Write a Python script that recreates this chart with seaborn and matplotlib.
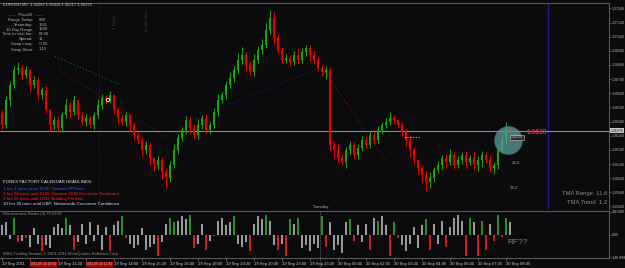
import numpy as np
import pandas as pd
import matplotlib
matplotlib.use("Agg")
import matplotlib.pyplot as plt
import matplotlib.transforms as mtransforms
import seaborn as sns

# ---------------- data ----------------
first_open = 1.36500
closes = [1.36415, 1.36592, 1.36698, 1.36804, 1.36818, 1.36769, 1.36804, 1.36698, 1.36734, 1.36628,
          1.36663, 1.36522, 1.36415, 1.36451, 1.36394, 1.36486, 1.36557, 1.36507, 1.36592, 1.36486,
          1.36437, 1.36465, 1.36415, 1.36486, 1.36557, 1.36606, 1.36592, 1.36628, 1.36522, 1.36465,
          1.36437, 1.36486, 1.36415, 1.36345, 1.36309, 1.36239, 1.36274, 1.36182, 1.36133, 1.36168,
          1.36083, 1.36041, 1.36133, 1.36239, 1.36324, 1.36380, 1.36451, 1.36394, 1.36345, 1.36415,
          1.36465, 1.36380, 1.36415, 1.36507, 1.36592, 1.36628, 1.36698, 1.36748, 1.36804, 1.36875,
          1.36910, 1.36840, 1.36790, 1.36875, 1.36946, 1.36981, 1.37087, 1.37172, 1.37031, 1.36946,
          1.36875, 1.36889, 1.36861, 1.36910, 1.36875, 1.36932, 1.36960, 1.36910, 1.36875, 1.36818,
          1.36790, 1.36804, 1.36274, 1.36239, 1.36182, 1.36154, 1.36239, 1.36274, 1.36203, 1.36253,
          1.36309, 1.36274, 1.36345, 1.36309, 1.36380, 1.36415, 1.36437, 1.36465, 1.36451, 1.36415,
          1.36366, 1.36309, 1.36239, 1.36168, 1.36111, 1.36062, 1.36012, 1.36041, 1.36097, 1.36133,
          1.36182, 1.36154, 1.36203, 1.36133, 1.36168, 1.36203, 1.36154, 1.36182, 1.36133, 1.36168,
          1.36203, 1.36168, 1.36111, 1.36133, 1.36239, 1.36309, 1.36380, 1.36376]
wick_up_pips = [2, 3, 2, 3, 4, 2, 3, 1, 3, 2, 2, 3, 1, 2, 3, 2, 4, 2, 3, 1,
                2, 3, 2, 2, 4, 3, 2, 3, 1, 2, 3, 2, 1, 2, 3, 2, 3, 2, 1, 3,
                2, 2, 3, 4, 3, 2, 3, 2, 3, 4, 2, 3, 2, 3, 4, 2, 3, 4, 3, 5,
                6, 2, 3, 4, 3, 4, 5, 6, 4, 3, 2, 3, 2, 3, 4, 3, 2, 2, 3, 2,
                2, 3, 2, 3, 4, 3, 2, 3, 2, 3, 3, 2, 3, 2, 3, 2, 3, 4, 2, 1,
                2, 2, 3, 2, 1, 2, 3, 4, 2, 3, 2, 3, 4, 2, 3, 2, 3, 2, 4, 3,
                3, 2, 3, 2, 3, 4, 6, 2]
wick_dn_pips = [3, 2, 4, 2, 3, 3, 2, 4, 2, 3, 3, 2, 4, 3, 2, 3, 2, 4, 2, 3,
                2, 3, 2, 3, 2, 3, 3, 2, 3, 4, 2, 3, 4, 3, 2, 4, 3, 5, 4, 3,
                5, 6, 3, 2, 3, 2, 3, 4, 2, 3, 3, 2, 3, 2, 3, 2, 3, 2, 3, 2,
                3, 4, 2, 3, 2, 3, 2, 3, 4, 2, 3, 2, 3, 2, 3, 2, 3, 4, 3, 2,
                3, 5, 4, 6, 3, 2, 4, 3, 2, 3, 2, 3, 2, 3, 2, 3, 2, 2, 3, 2,
                3, 4, 5, 3, 4, 5, 6, 4, 3, 2, 3, 4, 2, 3, 2, 3, 4, 2, 3, 4,
                5, 2, 3, 4, 3, 2, 3, 2]

osc_values = [60, 80, -30, 110, -50, -40, -25, -80, 40, -60,
              -110, -70, -90, 50, 70, 40, 110, 60, -100, -50,
              70, -60, 80, -40, 60, -100, 50, -110, 60, 90,
              120, -20, -60, -90, -70, 40, -100, -80, -60, -140,
              -50, 70, 110, 80, 90, 120, 100, 130, -90, -60,
              70, -100, -40, -10, 90, 110, 60, 80, 120, -60,
              -80, -50, -110, 70, 120, 100, 130, 90, -70, -100,
              -60, -140, 100, 70, 110, -90, -70, -110, -60, -90,
              120, -80, 80, -100, -70, -120, 80, 100, -40, 60,
              -50, 70, -100, 110, 90, 120, 60, -140, 80, -20,
              -70, -110, -60, 50, -90, 60, 100, -100, 70, -60,
              90, -80, 50, 110, 130, 90, -140, 110, 80, -140,
              90, -100, 70, -40, 130, -15, 110, 80]
osc_signal_codes = ("nnngrnrnnn" "rnnnnngnrn" "nnnnnnnrnn" "grnnnnnnnr" "nnggnnngrn"
                    "nrnrnnnngn" "nnrnnngnnr" "nrgngnnnnn" "grnnnnngrn" "nnrngnnrgr"
                    "nnnnnngrnn" "nrnnnnrgnr" "grnrgrgn")

price_ticks = [1.3584, 1.3594, 1.3604, 1.3614, 1.3624, 1.3634, 1.3644, 1.3654,
               1.3664, 1.3674, 1.3684, 1.3694, 1.3704, 1.3714, 1.3724]
osc_ticks = [146.888, 0.0, -146.888]
osc_tick_labels = ["146.888", "0.00", "-146.888"]
time_tick_bars = [0, 7, 14, 21, 28, 35, 42, 49, 56, 63, 70, 77, 84, 91, 98, 105, 112, 119, 126]
time_tick_labels = ["19 Sep 2011", "2011.09.19 10:00", "19 Sep 11:20", "2011.09.19 12:40",
                    "19 Sep 14:00", "19 Sep 15:20", "19 Sep 16:40", "19 Sep 18:00",
                    "19 Sep 19:20", "19 Sep 20:40", "19 Sep 22:00", "19 Sep 23:20",
                    "20 Sep 00:45", "20 Sep 02:05", "20 Sep 03:25", "20 Sep 04:45",
                    "20 Sep 06:05", "20 Sep 07:25", "20 Sep 08:45"]

tma_green_bars = [13.25, 29.5]
tma_green_prices = [1.3690, 1.3670]
tma_red1_bars = [14.5, 42.0]
tma_red1_prices = [1.3680, 1.3631]
tma_blue_bars = [57.0, 79.5]
tma_blue_prices = [1.3656, 1.3682]
tma_red2_bars = [80.75, 95.75]
tma_red2_prices = [1.3679, 1.3617]
fib_dash_bars = [100.5, 104.5]
fib_dash_price = 1.3633
marker_bar, marker_price = 26.5, 1.36592
circle_bar, circle_price = 126.5, 1.36309
day_separator_bar = 79.5
pivot_line_bar = 24.25
future_line_bar = 136.5

info_rows = [("Range Today:", "898"), ("Yesterday:", "1341"), ("10 Day Range:", "1588"),
             ("Time to next bar:", "01:06"), ("Spread:", "11"), ("Swap Long:", "-0.50"),
             ("Swap Short:", "1.10")]
headlines = [("FOREX FACTORY CALENDAR HEADLINES:", "#e8e8e8"),
             ("1 hrs 3 mins since EUR: German PPI m/m", "#3a5cff"),
             ("1 hrs 58 mins until EUR: German ZEW Economic Sentiment", "#ff2020"),
             ("5 hrs 25 mins until USD: Building Permits", "#ff2020"),
             ("10 hrs 30 mins until GBP: Nationwide Consumer Confidence", "#d0d8ff")]

# ---------------- style ----------------
W, H = 625, 268
BG = "#0b0b0e"
GREEN = "#1aa01a"
RED = "#e80000"
GRAY = "#9a9a9a"
FRAME = "#6e6e6e"

sns.set_theme(style="dark")
plt.rcParams["font.family"] = ["Liberation Sans", "DejaVu Sans"]

fig = plt.figure(figsize=(W / 100, H / 100), dpi=100, facecolor=BG)


def fy(py):
    return 1 - py / H


ax = fig.add_axes([0, fy(209), 609 / W, (209 - 3) / H])
axo = fig.add_axes([0, fy(258), 609 / W, (258 - 211) / H])
for a in (ax, axo):
    a.set_facecolor(BG)
    a.grid(False)
    for s in a.spines.values():
        s.set_color(FRAME)
        s.set_linewidth(0.6)
    a.spines["left"].set_visible(False)
ax.spines["bottom"].set_visible(False)

# ---------------- candles ----------------
c = np.array(closes)
o = np.array([first_open] + closes[:-1])
x = np.arange(len(c))
hi_body = np.maximum(o, c)
lo_body = np.minimum(o, c)
highs = hi_body + np.array(wick_up_pips) * 0.0001
lows = lo_body - np.array(wick_dn_pips) * 0.0001
cols = np.where(c >= o, GREEN, RED)
ax.vlines(x, lows, highs, colors=cols, lw=0.8, zorder=3)
ax.bar(x, np.maximum(hi_body - lo_body, 0.00003), bottom=lo_body, width=0.6,
       color=cols, linewidth=0, zorder=3)

# indicator lines
ax.plot(tma_green_bars, tma_green_prices, color="#1f7a1f", ls=(0, (1, 2.5)), lw=0.7, zorder=2)
ax.plot(tma_red1_bars, tma_red1_prices, color="#7a1414", ls=(0, (1, 2.5)), lw=0.7, zorder=2)
ax.plot(tma_blue_bars, tma_blue_prices, color="#22227a", ls=(0, (1, 2.5)), lw=0.7, zorder=2)
ax.plot(tma_red2_bars, tma_red2_prices, color="#8a1414", ls=(0, (1, 2.5)), lw=0.7, zorder=2)
ax.hlines(fib_dash_price, fib_dash_bars[0], fib_dash_bars[1], colors="#e0e0e0",
          linestyles=(0, (2, 2)), lw=0.5, zorder=4)
ax.axvline(pivot_line_bar, color="#7a1a1a", ls=(0, (1, 2)), lw=0.6, zorder=1)
ax.axvline(future_line_bar, color="#1c1c8a", lw=1.0, zorder=1)
ax.axhline(closes[-1], color="#8c8c8c", lw=0.8, zorder=2)
ax.scatter([marker_bar], [marker_price], s=6, facecolors="none", edgecolors="white",
           linewidths=0.6, zorder=6)
ax.scatter([circle_bar], [circle_price], s=420, color="#5a9c9c", alpha=0.75,
           linewidths=0, zorder=5)

ax.set_xlim(-0.5, -0.5 + 609 / 4)
ax.set_ylim(1.35822, 1.37278)
ax.set_xticks([])
ax.yaxis.tick_right()
ax.set_yticks(price_ticks)
ax.set_yticklabels([f"{p:.5f}" for p in price_ticks])
ax.tick_params(axis="y", colors=FRAME, labelcolor="#b4b4b4", labelsize=2.6,
               length=1.5, width=0.5, pad=0.6, direction="out", right=True)
trans = mtransforms.blended_transform_factory(ax.transAxes, ax.transData)
ax.text(1.003, closes[-1], f"{closes[-1]:.5f}", transform=trans, ha="left", va="center",
        fontsize=2.6, color="#101010",
        bbox=dict(facecolor="#c8c8c8", edgecolor="none", pad=0.3), zorder=7)

# ---------------- oscillator ----------------
sig_map = {"g": "up", "r": "down", "n": "flat"}
df = pd.DataFrame({"bar": np.arange(len(osc_values)), "value": osc_values,
                   "signal": [sig_map[ch] for ch in osc_signal_codes]})
sns.barplot(data=df, x="bar", y="value", hue="signal",
            palette={"up": GREEN, "down": RED, "flat": GRAY},
            native_scale=True, dodge=False, errorbar=None, width=0.4,
            linewidth=0, legend=False, ax=axo)
axo.set_xlabel("")
axo.set_ylabel("")
axo.set_xlim(-0.5, -0.5 + 609 / 4)
axo.set_ylim(-153, 153)
axo.yaxis.tick_right()
axo.set_yticks(osc_ticks)
axo.set_yticklabels(osc_tick_labels)
axo.tick_params(axis="y", colors=FRAME, labelcolor="#b4b4b4", labelsize=2.6,
                length=1.5, width=0.5, pad=0.6, direction="out", right=True)
axo.set_xticks(time_tick_bars)
axo.set_xticklabels(time_tick_labels, ha="left")
axo.tick_params(axis="x", colors=FRAME, labelcolor="#d0d0d0", labelsize=3.0,
                length=2, width=0.5, pad=1.2, direction="out", bottom=True)
for k, lbl in enumerate(axo.get_xticklabels()):
    if k in (1, 3):
        lbl.set_fontsize(2.4)
        lbl.set_bbox(dict(facecolor="#b00000", edgecolor="none", pad=0.3))
axo.axvline(day_separator_bar, ymin=-0.22, ymax=1.0, color="#9a9a9a",
            ls=(0, (1, 1.5)), lw=0.5, clip_on=False)


# ---------------- text overlays ----------------
def T(px, py, s, color="#b8b8b8", size=3.2, ha="left", **kw):
    fig.text(px / W, fy(py), s, color=color, fontsize=size, ha=ha, va="center", **kw)


T(3, 5, "EURUSD,M5  1.36262 1.36410 1.36217 1.36376", color="#c8c8c8", size=3.0)
T(25, 15, "------  Pivot20  ------", ha="center", color="#b0b0b0", size=3.0)
for (lab, val), py in zip(info_rows, [20, 25, 29.5, 34, 39, 44, 49.5]):
    T(33, py, lab, ha="right", color="#b0b0b0", size=3.0)
    T(39, py, val, color="#b0b0b0", size=3.0)
T(115, 22, "4 Days", rotation=90, ha="center", color="#3c3c3c", size=3.2)
T(147, 20, "Inside Days", rotation=90, ha="center", color="#3c3c3c", size=3.2)

for (s, colr), py in zip(headlines, [182, 189, 194, 199, 204]):
    T(3, py, s, color=colr, size=3.2)

T(321, 207, "Tuesday", ha="center", color="#a8a8a8", size=3.2)
T(527, 133, "1.3638", color="#ff1a1a", size=4.8, weight="bold")
T(511, 137.5, "1.36376", color="#d8d8d8", size=2.4,
  bbox=dict(facecolor="#2a2a2a", edgecolor="#c0c0c0", lw=0.4, pad=0.4))
T(512, 163, "23.6", color="#a0a0a0", size=3.2)
T(510, 188, "38.2", color="#a0a0a0", size=3.2)
T(607, 193, "TMA Range  11.6", ha="right", color="#8c8c8c", size=4.2)
T(607, 202, "TMA Trend  1.2", ha="right", color="#8c8c8c", size=4.2)

T(3, 214, "Retracement Finder (4) 75.6169", color="#8c8c8c", size=3.0)
T(3, 254, "MSG Trading Station, \u00a9 2001-2011 MetaQuotes Software Corp.",
  color="#8c8c8c", size=3.0)
T(507, 243, "RF??", color="#7c7c7c", size=6)

fig.savefig("out.png", dpi=100, facecolor=BG)
